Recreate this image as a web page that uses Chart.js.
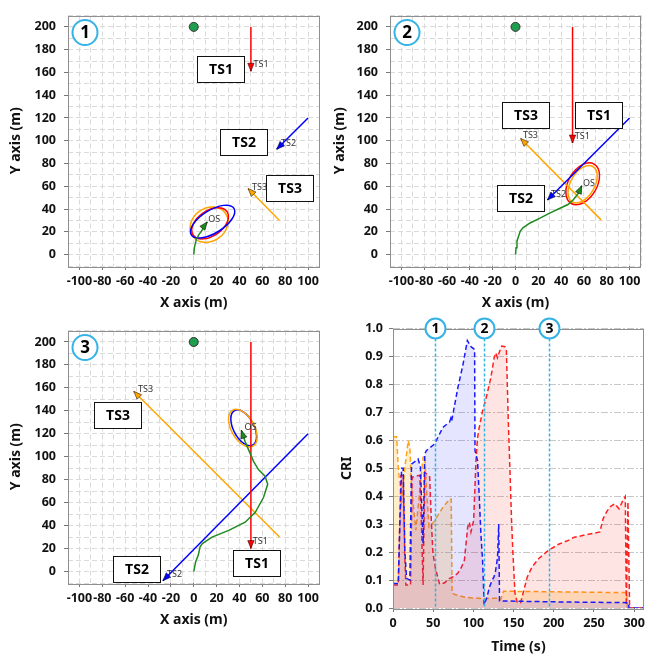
<!DOCTYPE html>
<html>
<head>
<meta charset="utf-8">
<script src="https://cdn.jsdelivr.net/npm/chart.js@4.4.0/dist/chart.umd.min.js"></script>
<style>
body { margin: 0; background: #fff; width: 649px; height: 655px; position: relative; overflow: hidden; }
canvas { position: absolute; }
</style>
</head>
<body>
<canvas id="p1" width="325" height="315" style="left:0;top:0"></canvas>
<canvas id="p2" width="324" height="315" style="left:325px;top:0"></canvas>
<canvas id="p3" width="325" height="317" style="left:0;top:315px"></canvas>
<canvas id="p4" width="324" height="344" style="left:325px;top:315px"></canvas>
<script>
// ---- snapshot 1 (t = 52 s), positions in metres
var ts1Track1 = [[50, 200], [50, 161]];
var ts2Track1 = [[100, 120], [72.5, 92.5]];
var ts3Track1 = [[75, 30], [47.5, 58]];
var osTrack1 = [[0, 0], [0.6, 6.3], [2.3, 13.5], [4.6, 17.8], [6.9, 20.7], [9, 25], [11.8, 28.7]];
// ship, centre x, centre y, semi-major, semi-minor, tilt (deg)
var domains1 = [["TS3", 13.4, 26.3, 17.5, 14.5, 35], ["TS1", 14.3, 27.5, 18, 11, 35], ["TS2", 16.5, 29, 22, 10, 32]];
var boxes1 = [["TS1", 23.4, 163], ["TS2", 43.6, 99], ["TS3", 84.5, 58.7]];
var tags1 = [["TS1", 52.3, 167], ["TS2", 76.3, 98], ["TS3", 50.9, 59.4], ["OS", 12.7, 30.7]];

// ---- snapshot 2 (t = 113 s)
var ts1Track2 = [[50, 200], [50, 98]];
var ts2Track2 = [[100, 120], [28, 48]];
var ts3Track2 = [[75, 30.5], [4.5, 102]];
var osTrack2 = [[0, 0], [0.5, 6], [1.3, 12], [3, 17], [4.2, 20.7], [6.5, 23.5], [12.8, 27.8], [21.5, 32], [30, 36.4],
    [39, 40.7], [46, 44], [50.5, 48], [55, 53.7], [58, 60.5]];
var domains2 = [["TS1", 58.9, 62.2, 20, 12.5, 60], ["TS3", 58.8, 61.8, 18, 10.5, 60]];
var boxes2 = [["TS3", 9.5, 123], ["TS1", 73, 123], ["TS2", 4.5, 50]];
var tags2 = [["TS3", 6.5, 104.4], ["TS1", 52, 103.9], ["TS2", 31.1, 52.8], ["OS", 59.2, 62.8]];

// ---- snapshot 3 (t = 195 s)
var ts1Track3 = [[50, 200], [50, 20]];
var ts2Track3 = [[100, 120], [-27, -8]];
var ts3Track3 = [[75, 30], [-52.5, 157]];
var osTrack3 = [[0, 0], [1.7, 8.6], [4, 14.3], [5.5, 21.5], [7.5, 24.4], [16, 30], [30.6, 35.8], [45, 43], [53.8, 51.6],
    [61, 64.5], [64.7, 76], [62.4, 83], [56.6, 88.8], [52.3, 96], [48, 106], [45, 113], [41.6, 123]];
var domains3 = [["TS2", 43.7, 125.3, 17, 9, -62], ["TS3", 42.9, 124.9, 18, 10, -60]];
var boxes3 = [["TS3", -66.5, 136.8], ["TS2", -50, 2.2], ["TS1", 55.6, 7.8]];
var tags3 = [["TS3", -48.8, 159], ["TS1", 51.7, 25.8], ["TS2", -23.4, -2.3], ["OS", 44.5, 125.5]];

var waypoint = [0, 200];

// ---- CRI time series
var timeTs1 = [0, 6.5, 9.9, 12.7, 14.5, 16, 21.8, 23.8, 33.3, 35.4, 37.4, 39.5, 45.6, 47.7, 49.7, 53, 58, 64, 70, 75,
    80.5, 85, 88.8, 92.9, 95, 97, 100.3, 103.2, 105.2, 107.3, 111.4, 115.5, 121.7, 125.8, 127.8, 129.9, 132, 135.2,
    139.3, 141, 143.4, 145.5, 147.5, 149.2, 151.7, 154.6, 158.7, 162.8, 166.9, 173, 181.3, 193.6, 206, 218.2, 224.5,
    240, 257.3, 261.4, 265.5, 269.6, 275.8, 281.1, 286, 288.9, 290.2, 292.2, 294.3, 312];
var criTs1 = [0.082, 0.082, 0.474, 0.474, 0.2, 0.082, 0.082, 0.468, 0.475, 0.3, 0.082, 0.486, 0.47, 0.31, 0.195, 0.14,
    0.085, 0.09, 0.105, 0.112, 0.124, 0.145, 0.171, 0.29, 0.307, 0.272, 0.313, 0.527, 0.61, 0.646, 0.705, 0.747, 0.824,
    0.895, 0.913, 0.895, 0.913, 0.937, 0.935, 0.925, 0.67, 0.49, 0.31, 0.195, 0.053, 0.019, 0.019, 0.064, 0.11, 0.147,
    0.177, 0.207, 0.228, 0.242, 0.252, 0.262, 0.272, 0.32, 0.343, 0.361, 0.373, 0.355, 0.385, 0.399, 0.01, 0.379, 0, 0];

var timeTs2 = [0, 6.6, 8.6, 10.7, 12.7, 14.8, 16.9, 21, 23, 31.2, 34.1, 37.4, 39.5, 41.5, 51.8, 62, 70.3, 72, 73, 80.8,
    87, 92.5, 97, 101.5, 102, 105.2, 107.3, 109.3, 111.4, 113.4, 117, 120, 123.4, 125.5, 127.4, 130, 131.5, 132.5, 140,
    200, 293, 293.5, 312];
var criTs2 = [0.088, 0.088, 0.31, 0.5, 0.5, 0.2, 0.106, 0.1, 0.515, 0.533, 0.505, 0.23, 0.551, 0.563, 0.587, 0.646,
    0.665, 0.68, 0.67, 0.79, 0.87, 0.957, 0.935, 0.925, 0.563, 0.527, 0.397, 0.266, 0.171, 0.011, 0.04, 0.075, 0.1, 0.11,
    0.13, 0.18, 0.3, 0.025, 0.025, 0.022, 0.019, 0, 0];

var timeTs3 = [0, 4.5, 6.6, 10.7, 14.8, 18.9, 21, 23, 28.4, 31.2, 37.4, 39.5, 41.5, 44.8, 47.7, 50.6, 62, 70.5, 72.4,
    73.5, 80.5, 90, 110, 132, 134, 137.5, 200, 290.7, 291.5, 312];
var criTs3 = [0.613, 0.613, 0.5, 0.385, 0.503, 0.599, 0.575, 0.432, 0.278, 0.36, 0.539, 0.544, 0.43, 0.29, 0.3, 0.307,
    0.36, 0.39, 0.39, 0.052, 0.045, 0.038, 0.034, 0.035, 0.03, 0.06, 0.058, 0.055, 0, 0];

var markerTimes = [52, 113, 194.5];
var markerLabels = ["1", "2", "3"];

var shipColors = { TS1: "#ff0000", TS2: "#0000ff", TS3: "#ffa500", OS: "#1f8a1f" };
var fontFamily = "'Noto Sans', 'DejaVu Sans', sans-serif";
var cyan = "#35b3e6";

function pts(arr) {
    return arr.map(function(p) { return { x: p[0], y: p[1] }; });
}

function zip(xs, ys) {
    var out = [];
    for (var i = 0; i < xs.length; i++) out.push({ x: xs[i], y: ys[i] });
    return out;
}

function drawFrame(chart) {
    var a = chart.chartArea, ctx = chart.ctx;
    ctx.save();
    ctx.strokeStyle = "#8f8f8f";
    ctx.lineWidth = 1;
    ctx.strokeRect(Math.round(a.left) + 0.5, Math.round(a.top) + 0.5, Math.round(a.right - a.left) - 1, Math.round(a.bottom - a.top));
    ctx.restore();
}

function drawNumber(ctx, x, y, r, text, size) {
    ctx.save();
    ctx.beginPath();
    ctx.arc(x, y, r, 0, 2 * Math.PI);
    ctx.fillStyle = "#fff";
    ctx.fill();
    ctx.lineWidth = 2;
    ctx.strokeStyle = cyan;
    ctx.stroke();
    ctx.fillStyle = "#000";
    ctx.font = "bold " + size + "px " + fontFamily;
    ctx.textAlign = "center";
    ctx.textBaseline = "middle";
    ctx.fillText(text, x, y + 1);
    ctx.restore();
}

function drawArrow(ctx, x0, y0, x1, y1, color) {
    var ang = Math.atan2(y1 - y0, x1 - x0);
    ctx.save();
    ctx.translate(x1, y1);
    ctx.rotate(ang);
    ctx.beginPath();
    ctx.moveTo(0, 0);
    ctx.lineTo(-8, 3.2);
    ctx.lineTo(-8, -3.2);
    ctx.closePath();
    ctx.fillStyle = color;
    ctx.fill();
    ctx.lineWidth = 0.8;
    ctx.strokeStyle = "rgba(0,0,0,0.6)";
    ctx.stroke();
    ctx.restore();
}

var trackPlugin = {
    id: "track",
    beforeDatasetsDraw: function(chart, args, opts) {
        var ctx = chart.ctx, xs = chart.scales.x, ys = chart.scales.y;
        var kx = xs.getPixelForValue(1) - xs.getPixelForValue(0);
        var ky = ys.getPixelForValue(0) - ys.getPixelForValue(1);
        opts.domains.forEach(function(d) {
            ctx.save();
            ctx.beginPath();
            ctx.translate(xs.getPixelForValue(d[1]), ys.getPixelForValue(d[2]));
            ctx.scale(kx, -ky);
            ctx.rotate(d[5] * Math.PI / 180);
            ctx.ellipse(0, 0, d[3], d[4], 0, 0, 2 * Math.PI);
            ctx.restore();
            ctx.save();
            ctx.lineWidth = 1.5;
            ctx.strokeStyle = shipColors[d[0]];
            ctx.stroke();
            ctx.restore();
        });
    },
    afterDatasetsDraw: function(chart, args, opts) {
        var ctx = chart.ctx, xs = chart.scales.x, ys = chart.scales.y;
        chart.data.datasets.forEach(function(ds, i) {
            if (!ds.arrow) return;
            var el = chart.getDatasetMeta(i).data;
            var a = el[el.length - 2], b = el[el.length - 1];
            drawArrow(ctx, a.x, a.y, b.x, b.y, ds.borderColor);
        });
        drawFrame(chart);
        ctx.save();
        ctx.font = "9px " + fontFamily;
        ctx.fillStyle = "#333";
        ctx.textAlign = "left";
        ctx.textBaseline = "middle";
        opts.tags.forEach(function(t) {
            ctx.fillText(t[0], xs.getPixelForValue(t[1]), ys.getPixelForValue(t[2]));
        });
        opts.boxes.forEach(function(b) {
            var cx = Math.round(xs.getPixelForValue(b[1])), cy = Math.round(ys.getPixelForValue(b[2]));
            ctx.fillStyle = "#fff";
            ctx.fillRect(cx - 23.5, cy - 13, 47, 26);
            ctx.strokeStyle = "#111";
            ctx.lineWidth = 1;
            ctx.strokeRect(cx - 23.5, cy - 12.5, 47, 26);
            ctx.fillStyle = "#000";
            ctx.font = "bold 14px " + fontFamily;
            ctx.textAlign = "center";
            ctx.fillText(b[0], cx, cy + 1);
        });
        ctx.restore();
        drawNumber(ctx, chart.chartArea.left + 17, chart.chartArea.top + 17, 12.5, opts.num, 17);
    }
};

function trackLine(name, track) {
    return {
        data: pts(track), showLine: true, borderColor: shipColors[name], backgroundColor: shipColors[name],
        borderWidth: 1.5, pointRadius: 0, arrow: true
    };
}

var tickFont = { family: fontFamily, size: 12.5, weight: "bold" };
var titleFont = { family: fontFamily, size: 14, weight: "bold" };

function makeTrackChart(id, tracks, domains, boxes, tags, num, lay) {
    new Chart(document.getElementById(id), {
        type: "scatter",
        data: {
            datasets: [
                trackLine("OS", tracks[3]),
                trackLine("TS1", tracks[0]),
                trackLine("TS2", tracks[1]),
                trackLine("TS3", tracks[2]),
                { data: [{ x: waypoint[0], y: waypoint[1] }], pointRadius: 4.5, backgroundColor: "#1f9e4e", borderColor: "#333", borderWidth: 1 }
            ]
        },
        options: {
            responsive: false, animation: false, devicePixelRatio: 1,
            layout: { padding: { left: 0, top: lay.top, right: lay.right, bottom: 0 } },
            plugins: {
                legend: { display: false }, tooltip: { enabled: false },
                track: { domains: domains, boxes: boxes, tags: tags, num: num }
            },
            scales: {
                x: {
                    type: "linear", min: -110, max: 110,
                    afterFit: function(s) { s.height = 49; },
                    ticks: {
                        stepSize: 10, includeBounds: false, autoSkip: false, maxRotation: 0, padding: 4, color: "#111", font: tickFont,
                        callback: function(v) { v = Math.round(v); return (v % 20 === 0 && Math.abs(v) <= 100) ? String(v) : ""; }
                    },
                    grid: {
                        color: "#dadada", tickLength: 4, tickBorderDash: [],
                        tickColor: function(c) { return Math.round(c.tick.value) % 20 === 0 && Math.abs(c.tick.value) <= 100 ? "#777" : "rgba(0,0,0,0)"; }
                    },
                    border: { display: false, dash: [5, 3] },
                    title: { display: true, text: "X axis (m)", color: "#111", font: titleFont, padding: { top: 0, bottom: 3.6 } }
                },
                y: {
                    type: "linear", min: -10, max: 210,
                    afterFit: function(s) { s.width = lay.yw; },
                    ticks: {
                        stepSize: 10, includeBounds: false, autoSkip: false, padding: 8, color: "#111", font: tickFont,
                        callback: function(v) { v = Math.round(v); return (v % 20 === 0 && v >= 0 && v <= 200) ? String(v) : ""; }
                    },
                    grid: {
                        color: "#dadada", tickLength: 4, tickBorderDash: [],
                        tickColor: function(c) { var v = Math.round(c.tick.value); return v % 20 === 0 && v >= 0 && v <= 200 ? "#777" : "rgba(0,0,0,0)"; }
                    },
                    border: { display: false, dash: [5, 3] },
                    title: { display: true, text: "Y axis (m)", color: "#111", font: titleFont, padding: { top: lay.yt, bottom: 0 } }
                }
            }
        },
        plugins: [trackPlugin]
    });
}

makeTrackChart("p1", [ts1Track1, ts2Track1, ts3Track1, osTrack1], domains1, boxes1, tags1, "1", { top: 10, right: 3, yw: 68, yt: 7.6 });
makeTrackChart("p2", [ts1Track2, ts2Track2, ts3Track2, osTrack2], domains2, boxes2, tags2, "2", { top: 10, right: 8, yw: 65, yt: 6.6 });
makeTrackChart("p3", [ts1Track3, ts2Track3, ts3Track3, osTrack3], domains3, boxes3, tags3, "3", { top: 12, right: 2, yw: 68, yt: 7.6 });

// ---- CRI panel
var markerPlugin = {
    id: "markers",
    afterDatasetsDraw: function(chart) {
        var ctx = chart.ctx, xs = chart.scales.x, a = chart.chartArea;
        drawFrame(chart);
        ctx.save();
        ctx.strokeStyle = cyan;
        ctx.lineWidth = 1.5;
        ctx.setLineDash([3, 2]);
        markerTimes.forEach(function(t) {
            var x = Math.round(xs.getPixelForValue(t)) + 0.5;
            ctx.beginPath();
            ctx.moveTo(x, a.top);
            ctx.lineTo(x, a.bottom);
            ctx.stroke();
        });
        ctx.restore();
        markerTimes.forEach(function(t, i) {
            drawNumber(ctx, Math.round(xs.getPixelForValue(t)) + 0.5, a.top, 10, markerLabels[i], 14);
        });
    }
};

function criSet(times, values, line, fill) {
    return {
        data: zip(times, values), borderColor: line, backgroundColor: fill, fill: "origin",
        borderWidth: 1.5, borderDash: [5, 3], pointRadius: 0, tension: 0
    };
}

new Chart(document.getElementById("p4"), {
    type: "line",
    data: {
        datasets: [
            criSet(timeTs2, criTs2, "#1a1aff", "rgba(40,40,255,0.12)"),
            criSet(timeTs1, criTs1, "#ff2020", "rgba(255,30,30,0.12)"),
            criSet(timeTs3, criTs3, "#ffa31a", "rgba(255,165,0,0.2)")
        ]
    },
    options: {
        responsive: false, animation: false, devicePixelRatio: 1,
        layout: { padding: { left: 0, top: 12, right: 2, bottom: 0 } },
        plugins: { legend: { display: false }, tooltip: { enabled: false } },
        scales: {
            x: {
                type: "linear", min: 0, max: 312,
                afterFit: function(s) { s.height = 51; },
                ticks: { stepSize: 50, includeBounds: false, maxRotation: 0, padding: 4, color: "#111", font: tickFont },
                grid: { drawOnChartArea: false, tickLength: 4, tickColor: "#777" },
                border: { display: false },
                title: { display: true, text: "Time (s)", color: "#111", font: titleFont, padding: { top: 0, bottom: 3.3 } }
            },
            y: {
                type: "linear", min: 0, max: 1,
                afterFit: function(s) { s.width = 68; },
                ticks: {
                    stepSize: 0.1, includeBounds: false, padding: 6, color: "#111", font: tickFont,
                    callback: function(v) { return v.toFixed(1); }
                },
                grid: { color: "#c8c8c8", tickLength: 4, tickColor: "#777", tickBorderDash: [] },
                border: { display: false, dash: [7, 2, 2, 2] },
                title: { display: true, text: "CRI", color: "#111", font: titleFont, padding: { top: 13.3, bottom: 0 } }
            }
        }
    },
    plugins: [markerPlugin]
});
</script>
</body>
</html>
